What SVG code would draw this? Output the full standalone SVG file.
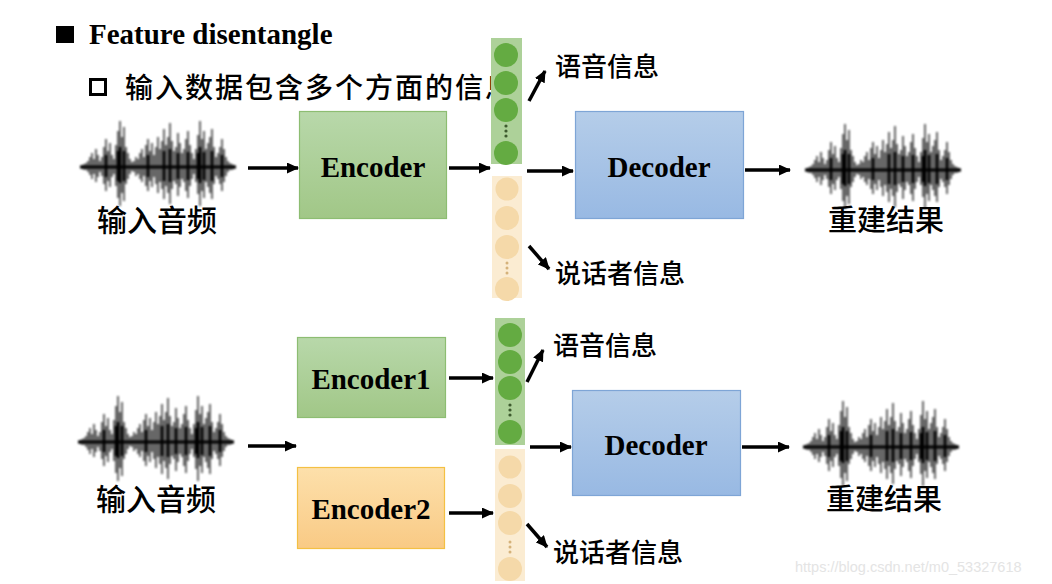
<svg xmlns="http://www.w3.org/2000/svg" width="1052" height="584" viewBox="0 0 1052 584">
<style>
.title{font-family:"Liberation Serif","Times New Roman",serif;font-weight:bold;font-size:29px;fill:#000}
.box{font-family:"Liberation Serif","Times New Roman",serif;font-weight:bold;font-size:29px;fill:#000;text-anchor:middle}
.cn{font-family:"Noto Sans CJK SC","Noto Sans",sans-serif;font-weight:500;fill:#000}
.arr{stroke:#000;stroke-width:3.5;fill:none;marker-end:url(#ah)}
.gcol{fill:#add199}
.gc{fill:#64ab42}
.bcol{fill:#fbecd2}
.bc{fill:#f5d9a9}
.gd{fill:#3d5a2e}
.bd{fill:#d5b27a}
.wm{font-family:"Liberation Sans",Arial,sans-serif;font-size:14.5px;fill:#e4e4e4}
</style>
<defs>
<marker id="ah" markerUnits="userSpaceOnUse" markerWidth="12" markerHeight="11" viewBox="0 0 12 11" refX="11" refY="5.5" orient="auto">
<path d="M0,0 L12,5.5 L0,11 z" fill="#000"/>
</marker>
<linearGradient id="gG" x1="0" y1="0" x2="0" y2="1"><stop offset="0" stop-color="#b8d8aa"/><stop offset="1" stop-color="#a1c787"/></linearGradient>
<linearGradient id="gB" x1="0" y1="0" x2="0" y2="1"><stop offset="0" stop-color="#b5cde9"/><stop offset="1" stop-color="#98b9e3"/></linearGradient>
<linearGradient id="gO" x1="0" y1="0" x2="0" y2="1"><stop offset="0" stop-color="#fde0ab"/><stop offset="1" stop-color="#f9ca85"/></linearGradient>
<filter id="blur" x="-10%" y="-20%" width="120%" height="140%"><feGaussianBlur stdDeviation="0.9"/></filter>
<g id="wave" filter="url(#blur)">
<path d="M0 0H156" stroke="#000" stroke-width="3"/>
<path stroke="#000" stroke-width="1.6" stroke-opacity="0.75" fill="none" d="M2 -2V2 M4 -3V3 M6 -4V3 M8 -6V5 M10 -10V8 M12 -14V12 M14 -8V7 M16 -18V15 M18 -12V10 M20 -6V5 M22 -10V9 M24 -20V17 M26 -28V24 M28 -16V14 M30 -24V20 M32 -12V10 M34 -8V7 M36 -22V19 M38 -36V31 M40 -46V39 M42 -30V26 M44 -40V34 M46 -20V17 M48 -14V12 M50 -8V7 M52 -5V4 M54 -6V5 M56 -10V9 M58 -8V7 M60 -14V12 M62 -18V15 M64 -10V9 M66 -22V19 M68 -28V24 M70 -16V14 M72 -24V20 M74 -12V10 M76 -20V17 M78 -30V26 M80 -18V15 M82 -26V22 M84 -38V32 M86 -22V19 M88 -30V26 M90 -44V37 M92 -26V22 M94 -16V14 M96 -20V17 M98 -34V29 M100 -24V20 M102 -14V12 M104 -18V15 M106 -28V24 M108 -36V31 M110 -22V19 M112 -14V12 M114 -8V7 M116 -18V15 M118 -32V27 M120 -46V39 M122 -28V24 M124 -36V31 M126 -18V15 M128 -24V20 M130 -30V26 M132 -38V32 M134 -20V17 M136 -10V9 M138 -14V12 M140 -20V17 M142 -28V24 M144 -18V15 M146 -10V9 M148 -6V5 M150 -4V3 M152 -3V3 M154 -2V2"/>
<path stroke="#000" stroke-width="2.6" fill="none" d="M26 -12V10 M38 -16V14 M40 -20V16 M44 -16V14 M68 -12V10 M84 -16V14 M90 -18V15 M98 -14V12 M108 -15V13 M118 -14V12 M120 -20V16 M124 -15V13 M132 -16V14 M142 -12V10"/>
</g>
</defs>

<!-- header -->
<g id="header">
<rect x="56" y="26" width="18" height="17" fill="#000"/>
<text class="title" x="89" y="44">Feature disentangle</text>
<rect x="90.5" y="79.5" width="15" height="15" fill="none" stroke="#000" stroke-width="3"/>
<text class="cn" x="125" y="98" font-size="28" letter-spacing="2">输入数据包含多个方面的信息</text>
</g>

<!-- ===== top row ===== -->
<g id="wave-in-1"><use href="#wave" x="80" y="167"/><text class="cn" x="97" y="231" font-size="30">输入音频</text></g>
<g id="encoder"><rect x="299.5" y="111.5" width="147" height="107" fill="url(#gG)" stroke="#8dbd72" stroke-width="1.2"/><text class="box" x="373" y="177">Encoder</text></g>
<g id="latent-1">
<rect class="gcol" x="491" y="38" width="31" height="126"/>
<circle class="gc" cx="506" cy="55" r="12"/><circle class="gc" cx="506" cy="83" r="12"/><circle class="gc" cx="506" cy="110" r="12"/><circle class="gc" cx="506" cy="153" r="12"/>
<circle class="gd" cx="506" cy="126" r="1.6"/><circle class="gd" cx="506" cy="131" r="1.6"/><circle class="gd" cx="506" cy="136" r="1.6"/>
<rect class="bcol" x="492" y="176" width="30" height="122"/>
<circle class="bc" cx="507" cy="189" r="11.5"/><circle class="bc" cx="507" cy="218" r="12"/><circle class="bc" cx="507" cy="247" r="12"/><circle class="bc" cx="507" cy="289" r="12"/>
<circle class="bd" cx="507" cy="263" r="1.5"/><circle class="bd" cx="507" cy="268" r="1.5"/><circle class="bd" cx="507" cy="273" r="1.5"/>
</g>
<g id="decoder-1"><rect x="575.5" y="111.5" width="168" height="107" fill="url(#gB)" stroke="#7ea5d6" stroke-width="1.2"/><text class="box" x="659" y="177">Decoder</text></g>
<g id="wave-out-1"><use href="#wave" x="805" y="170"/><text class="cn" x="828" y="231" font-size="29">重建结果</text></g>
<g id="labels-1">
<text class="cn" x="555" y="76" font-size="26">语音信息</text>
<text class="cn" x="555" y="283" font-size="26">说话者信息</text>
</g>

<!-- ===== bottom row ===== -->
<g id="wave-in-2"><use href="#wave" x="78" y="442"/><text class="cn" x="96" y="510" font-size="30">输入音频</text></g>
<g id="encoder1"><rect x="297.5" y="337.5" width="148" height="80" fill="url(#gG)" stroke="#8dbd72" stroke-width="1.2"/><text class="box" x="371" y="389">Encoder1</text></g>
<g id="encoder2"><rect x="297.5" y="467.5" width="147" height="81" fill="url(#gO)" stroke="#f4c043" stroke-width="1.2"/><text class="box" x="371" y="519">Encoder2</text></g>
<g id="latent-2">
<rect class="gcol" x="495" y="318" width="30" height="127"/>
<circle class="gc" cx="510" cy="335" r="12"/><circle class="gc" cx="510" cy="362" r="12"/><circle class="gc" cx="510" cy="388" r="12"/><circle class="gc" cx="510" cy="432" r="12"/>
<circle class="gd" cx="510" cy="405" r="1.6"/><circle class="gd" cx="510" cy="410" r="1.6"/><circle class="gd" cx="510" cy="415" r="1.6"/>
<rect class="bcol" x="495" y="449" width="30" height="132"/>
<circle class="bc" cx="510" cy="467" r="11.5"/><circle class="bc" cx="510" cy="496" r="12"/><circle class="bc" cx="510" cy="523" r="12"/><circle class="bc" cx="510" cy="569" r="12"/>
<circle class="bd" cx="510" cy="542" r="1.5"/><circle class="bd" cx="510" cy="547" r="1.5"/><circle class="bd" cx="510" cy="552" r="1.5"/>
</g>
<g id="decoder-2"><rect x="572.5" y="390.5" width="168" height="105" fill="url(#gB)" stroke="#7ea5d6" stroke-width="1.2"/><text class="box" x="656" y="455">Decoder</text></g>
<g id="wave-out-2"><use href="#wave" x="803" y="447"/><text class="cn" x="826" y="510" font-size="29">重建结果</text></g>
<g id="labels-2">
<text class="cn" x="553" y="355" font-size="26">语音信息</text>
<text class="cn" x="553" y="562" font-size="26">说话者信息</text>
</g>

<!-- connectors -->
<g id="connectors">
<path class="arr" d="M248 168 H298"/>
<path class="arr" d="M449 168 H490"/>
<path class="arr" d="M527 171 H573"/>
<path class="arr" d="M745 170 H790"/>
<path class="arr" d="M529 101 L545 71"/>
<path class="arr" d="M529 246 L549 269"/>
<path class="arr" d="M248 446 H296"/>
<path class="arr" d="M449 378 H493"/>
<path class="arr" d="M449 513 H493"/>
<path class="arr" d="M530 447 H571"/>
<path class="arr" d="M742 447 H789"/>
<path class="arr" d="M527 382 L543 350"/>
<path class="arr" d="M527 524 L547 547"/>
</g>

<text class="wm" x="795" y="572">https://blog.csdn.net/m0_53327618</text>
</svg>
